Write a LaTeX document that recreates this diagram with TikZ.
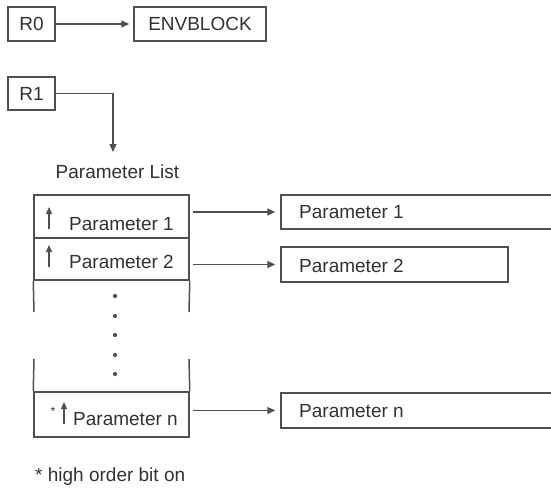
\documentclass[tikz,border=0pt]{standalone}
\usepackage{fontspec}
\setmainfont{Liberation Sans}
\usetikzlibrary{arrows.meta}
\definecolor{ln}{RGB}{80,80,80}
\definecolor{tx}{RGB}{50,50,50}
\begin{document}
\begin{tikzpicture}[x=1pt,y=-1pt,
  box/.style={draw=ln,line width=1.5pt,inner sep=0pt,text=tx,font=\fontsize{19}{22}\selectfont},
  lbl/.style={text=tx,font=\fontsize{19}{22}\selectfont,inner sep=0pt},
  conn/.style={draw=ln,line width=1.4pt,-{Triangle[length=8pt,width=7pt]}},
  bitarrow/.style={draw=ln,line width=1.3pt,-{Triangle[length=7pt,width=6pt]}},
  frame/.style={draw=ln,line width=1.5pt}]
\useasboundingbox (0,0) rectangle (551,487);
\clip (0,0) rectangle (551,487);
% registers
\node[box,minimum width=47pt,minimum height=34pt] (r0) at (31.5,24) {R0};
\node[box,minimum width=132pt,minimum height=34pt] (env) at (200,24) {ENVBLOCK};
\node[box,minimum width=47pt,minimum height=33pt] (r1) at (31.5,93.5) {R1};
\draw[conn,shorten >=4pt] (r0) -- (env);
\coordinate (plhead) at (113,152);
\draw[conn] (r1.east) -| (plhead);
\node[lbl,anchor=base] (pltitle) at (117.5,178) {Parameter List};
% parameter list rows
\node[box,minimum width=155pt,minimum height=43pt] (row1) at (111.5,216.5) {};
\node[box,minimum width=155pt,minimum height=42pt] (row2) at (111.5,259) {};
\node[box,minimum width=155pt,minimum height=45pt] (rown) at (111.5,414.5) {};
\coordinate (ul) at (34,312);
\coordinate (ur) at (189,312);
\coordinate (ll) at (34,359);
\coordinate (lr) at (189,359);
\draw[frame] (row2.south west) -- (ul);
\draw[frame] (row2.south east) -- (ur);
\draw[frame] (ll) -- (rown.north west);
\draw[frame] (lr) -- (rown.north east);
\foreach \yy in {296,316,335,355,374} \fill[ln] (115,\yy) circle (2.1pt);
% row contents
\coordinate (b1s) at (49,229); \coordinate (b1e) at (49,207);
\draw[bitarrow] (b1s) -- (b1e);
\node[lbl,anchor=base west] (t1) at (69,230) {Parameter 1};
\coordinate (b2s) at (49,267); \coordinate (b2e) at (49,245);
\draw[bitarrow] (b2s) -- (b2e);
\node[lbl,anchor=base west] (t2) at (69,268) {Parameter 2};
\node[lbl,anchor=center,font=\fontsize{12}{14}\selectfont] (star) at (53,411) {*};
\coordinate (bns) at (64,424); \coordinate (bne) at (64,402);
\draw[bitarrow] (bns) -- (bne);
\node[lbl,anchor=base west] (tn) at (73,425) {Parameter n};
% target boxes
\node[box,minimum width=330pt,minimum height=34pt] (p1) at (446,212) {};
\node[box,minimum width=227pt,minimum height=35pt] (p2) at (394.5,264.5) {};
\node[box,minimum width=330pt,minimum height=35pt] (pn) at (446,410.5) {};
\node[lbl,anchor=base west] (p1t) at (299,218) {Parameter 1};
\node[lbl,anchor=base west] (p2t) at (299,272) {Parameter 2};
\node[lbl,anchor=base west] (pnt) at (299,417) {Parameter n};
\draw[conn,shorten <=3pt,shorten >=5pt] (p1.west -| row1.east) -- (p1.west);
\draw[conn,shorten <=3pt,shorten >=5pt] (p2.west -| row2.east) -- (p2.west);
\draw[conn,shorten <=3pt,shorten >=5pt] (pn.west -| rown.east) -- (pn.west);
% footnote
\node[lbl,anchor=base west] (note) at (35,481) {* high order bit on};
\end{tikzpicture}
\end{document}
